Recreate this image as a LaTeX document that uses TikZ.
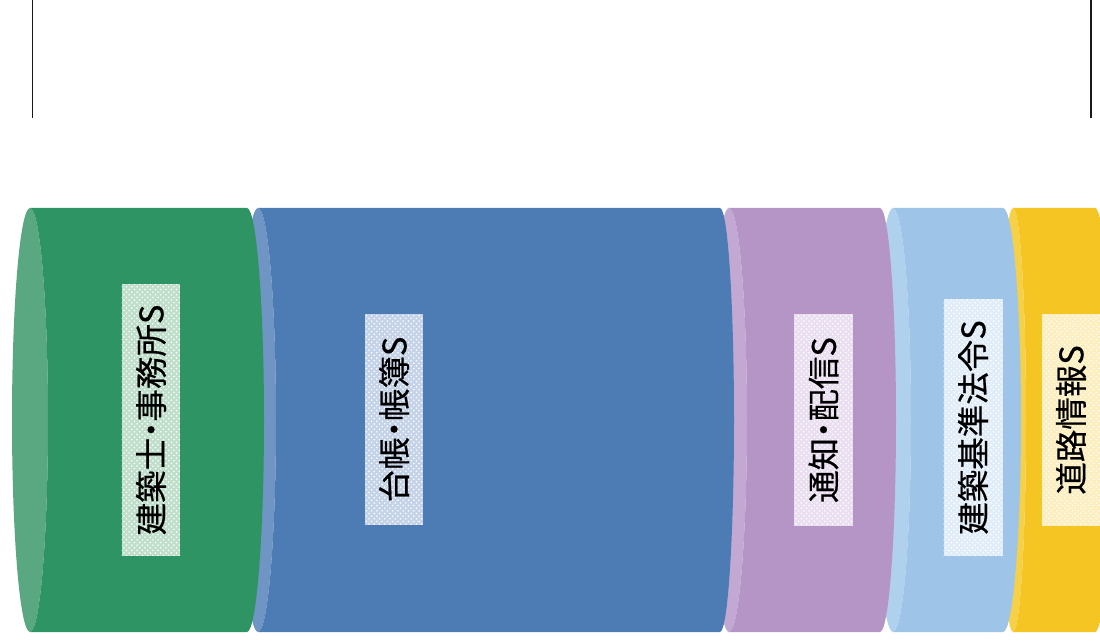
\documentclass[tikz,border=0pt]{standalone}
\usepackage{fontspec}
\setmainfont{Noto Sans CJK JP}[RawFeature=+palt, FakeBold=0.5]
\usetikzlibrary{patterns}

\definecolor{greenbody}{HTML}{2E9464}
\definecolor{greencap}{HTML}{5AA882}
\definecolor{greenbox}{HTML}{BFDFCB}
\definecolor{bluebody}{HTML}{4C7CB3}
\definecolor{bluecap}{HTML}{6E95C4}
\definecolor{bluebox}{HTML}{C4D3E8}
\definecolor{purplebody}{HTML}{B495C5}
\definecolor{purplecap}{HTML}{C3A8D3}
\definecolor{purplebox}{HTML}{EADFF0}
\definecolor{skybody}{HTML}{9EC4E8}
\definecolor{skycap}{HTML}{AFD1EE}
\definecolor{skybox}{HTML}{E0EDF9}
\definecolor{yellowbody}{HTML}{F5C623}
\definecolor{yellowcap}{HTML}{F6D147}
\definecolor{yellowbox}{HTML}{FCEEBE}

\begin{document}
\begin{tikzpicture}[
    x=0.02cm, y=0.02cm,
    seglabel/.style={rotate=90, inner sep=0pt, minimum height=1.18cm, pattern=crosshatch dots, pattern color=white, font=\fontsize{18.5pt}{21pt}\selectfont, text=black},
    topline/.style={line width=1.1pt, draw=black!90},
]
\useasboundingbox (0,0) rectangle (1100,640);

% frame lines
\draw[topline] (32.5,640) -- (32.5,522);
\draw[topline] (1091,640) -- (1091,522);

% yellow
\fill[yellowcap] (1013,220) ellipse [x radius=13, y radius=212];
\fill[yellowbody] (1013,432) -- (1095,432) arc[start angle=90, end angle=-90, x radius=16, y radius=212]
    -- (1013,8) arc[start angle=-90, end angle=90, x radius=13, y radius=212] -- cycle;

% sky blue
\fill[skycap] (893,220) ellipse [x radius=18, y radius=212];
\fill[skybody] (893,432) -- (1003,432) arc[start angle=90, end angle=-90, x radius=18, y radius=212]
    -- (893,8) arc[start angle=-90, end angle=90, x radius=18, y radius=212] -- cycle;

% purple
\fill[purplecap] (729,220) ellipse [x radius=18, y radius=212];
\fill[purplebody] (729,432) -- (880,432) arc[start angle=90, end angle=-90, x radius=16, y radius=212]
    -- (729,8) arc[start angle=-90, end angle=90, x radius=18, y radius=212] -- cycle;

% blue
\fill[bluecap] (258,220) ellipse [x radius=18, y radius=212];
\fill[bluebody] (258,432) -- (720,432) arc[start angle=90, end angle=-90, x radius=14, y radius=212]
    -- (258,8) arc[start angle=-90, end angle=90, x radius=18, y radius=212] -- cycle;

% green
\fill[greencap] (30,220) ellipse [x radius=18, y radius=212];
\fill[greenbody] (30,432) -- (247,432) arc[start angle=90, end angle=-90, x radius=17, y radius=212]
    -- (30,8) arc[start angle=-90, end angle=90, x radius=18, y radius=212] -- cycle;

% labels
\node[seglabel, preaction={fill=greenbox}, minimum width=5.44cm] (archi) at (151,220) {建築士・事務所S};
\node[seglabel, preaction={fill=bluebox}, minimum width=4.22cm] (ledger) at (394,220.5) {台帳・帳簿S};
\node[seglabel, preaction={fill=purplebox}, minimum width=4.24cm] (notice) at (823.5,220) {通知・配信S};
\node[seglabel, preaction={fill=skybox}, minimum width=5.14cm] (law) at (973,212.5) {建築基準法令S};
\node[seglabel, preaction={fill=yellowbox}, minimum width=4.24cm] (road) at (1071,220) {道路情報S};
\end{tikzpicture}
\end{document}
